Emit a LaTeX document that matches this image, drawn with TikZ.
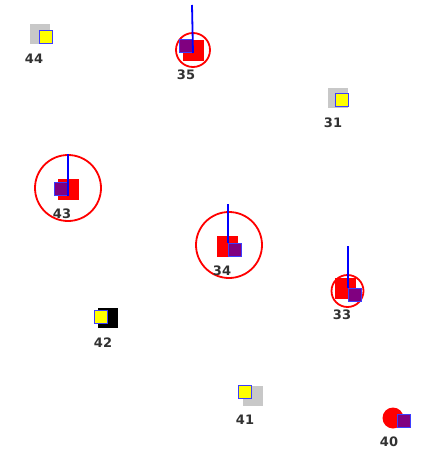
\documentclass[tikz,border=0pt]{standalone}
\usepackage{fontspec}
\setsansfont{DejaVu Sans}
\usepackage{tikz}
\usetikzlibrary{
  shapes.geometric,
  positioning,
  calc
}
\definecolor{ghostcolor}{RGB}{200, 200, 200}
\definecolor{markcolor}{RGB}{255, 255, 0}
\definecolor{edgecolor}{RGB}{60, 60, 255}
\definecolor{hitcolor}{RGB}{255, 0, 0}
\definecolor{predcolor}{RGB}{128, 0, 128}
\definecolor{trailcolor}{RGB}{0, 0, 255}
\definecolor{labelcolor}{RGB}{50, 50, 50}
\tikzset{
ghostblock/.style={
  rectangle,
  fill=ghostcolor,
  draw=none,
  inner sep=0pt,
  minimum size=20pt
},
darkblock/.style={
  ghostblock,
  fill=black
},
hitblock/.style={
  ghostblock,
  fill=hitcolor,
  minimum size=21pt
},
markblock/.style={
  rectangle,
  fill=markcolor,
  draw=edgecolor,
  line width=1pt,
  inner sep=0pt,
  minimum size=13pt
},
predblock/.style={
  markblock,
  fill=predcolor
},
ring/.style={
  circle,
  draw=hitcolor,
  line width=1.8pt,
  inner sep=0pt
},
blob/.style={
  circle,
  fill=hitcolor,
  inner sep=0pt,
  minimum size=21pt
},
trail/.style={
  draw=trailcolor,
  line width=1.8pt
},
idlabel/.style={
  font=\sffamily\bfseries\fontsize{13}{13}\selectfont,
  text=labelcolor,
  inner sep=0pt
}
}

\begin{document}
\begin{tikzpicture}[x=1pt, y=-1pt]
  \fill[white] (0,0) rectangle (424,452);
  \useasboundingbox (0,0) rectangle (424,452);

  % Idle tracks (gray / black backdrop)
  \node[ghostblock] (g44) at (40,34) {};
  \node[markblock] (m44) at (45.5,37.5) {};
  \node[idlabel] (l44) at (34,59) {44};

  \node[ghostblock] (g31) at (338,98) {};
  \node[markblock] (m31) at (342,100) {};
  \node[idlabel] (l31) at (333,123) {31};

  \node[darkblock] (g42) at (108,318) {};
  \node[markblock] (m42) at (101,316.5) {};
  \node[idlabel] (l42) at (103,343) {42};

  \node[ghostblock] (g41) at (253,396) {};
  \node[markblock] (m41) at (244.5,391.5) {};
  \node[idlabel] (l41) at (245,420) {41};

  % Fresh hit
  \node[blob] (h40) at (393,418) {};
  \node[predblock] (p40) at (404,421) {};
  \node[idlabel] (l40) at (389,442) {40};

  % Active tracks with trails
  \node[ring, minimum size=34pt] (r35) at (193,50) {};
  \node[hitblock] (h35) at (193,51) {};
  \node[predblock] (p35) at (186,46) {};
  \coordinate (t35) at (192,5);
  \draw[trail] (t35) -- (p35.south east);
  \node[idlabel] (l35) at (186,75) {35};

  \node[ring, minimum size=66pt] (r43) at (68,188) {};
  \node[hitblock] (h43) at (68.5,189) {};
  \node[predblock] (p43) at (61,188.5) {};
  \coordinate (t43) at (68,154);
  \draw[trail] (t43) -- (p43.south east);
  \node[idlabel] (l43) at (62,214) {43};

  \node[ring, minimum size=66pt] (r34) at (229,245) {};
  \node[hitblock] (h34) at (227.5,246.5) {};
  \node[predblock] (p34) at (235,250) {};
  \coordinate (t34) at (228,204);
  \draw[trail] (t34) -- (p34.north west);
  \node[idlabel] (l34) at (222,271) {34};

  \node[ring, minimum size=32pt] (r33) at (347.5,291) {};
  \node[hitblock] (h33) at (345,288) {};
  \node[predblock] (p33) at (355,294.5) {};
  \coordinate (t33) at (348,246);
  \draw[trail] (t33) -- (p33.north west);
  \node[idlabel] (l33) at (342,315) {33};
\end{tikzpicture}
\end{document}
